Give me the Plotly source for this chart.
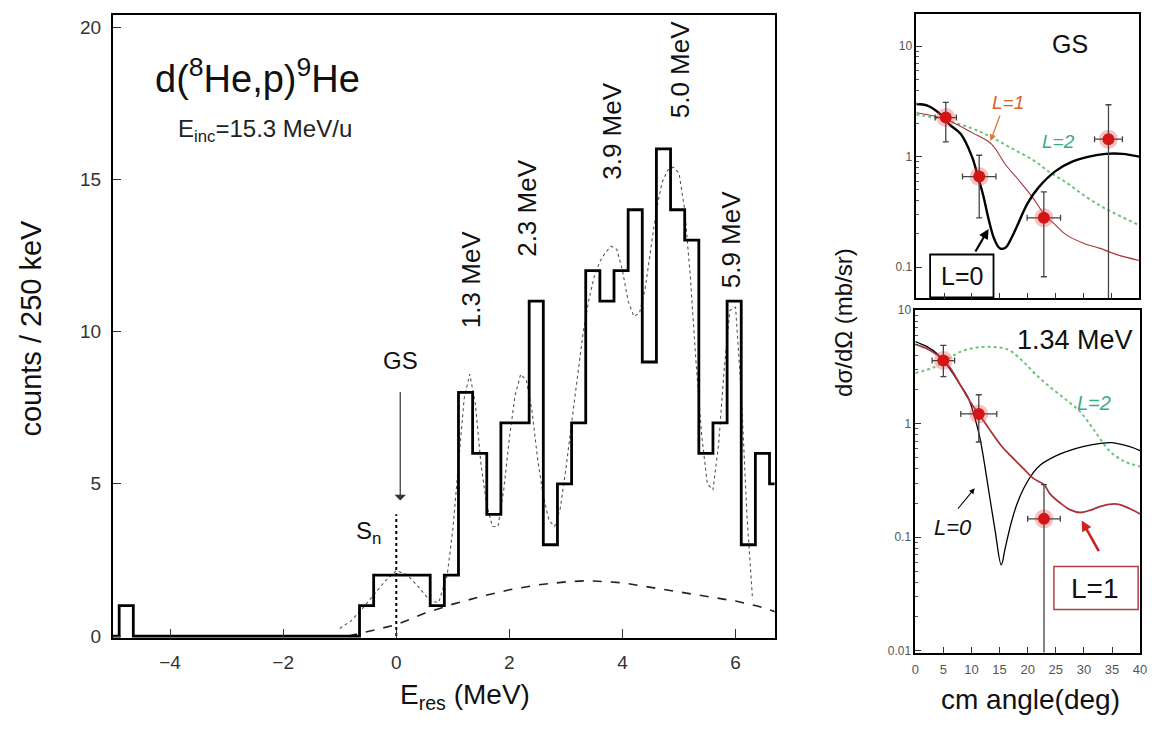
import plotly.graph_objects as go

W, H = 1158, 733

# ---------------- Left panel data: d(8He,p)9He spectrum ----------------
bin_left_edges = [-4.9, -4.65, -4.4, -4.15, -3.9, -3.65, -3.4, -3.15, -2.9, -2.65, -2.4, -2.15,
                  -1.9, -1.65, -1.4, -1.15, -0.9, -0.65, -0.4, -0.15, 0.1, 0.35, 0.6, 0.85,
                  1.1, 1.35, 1.6, 1.85, 2.1, 2.35, 2.6, 2.85, 3.1, 3.35, 3.6, 3.85, 4.1, 4.35,
                  4.6, 4.85, 5.1, 5.35, 5.6, 5.85, 6.1, 6.35, 6.6]
counts = [1, 0, 0, 0, 0, 0, 0, 0, 0, 0, 0, 0,
          0, 0, 0, 0, 0, 1, 2, 2, 2, 2, 1, 2,
          8, 6, 4, 7, 7, 11, 3, 5, 7, 12, 11, 12, 14, 9,
          16, 14, 13, 6, 7, 11, 3, 6, 5]

fit_x = [-1.0, -0.8, -0.6, -0.4, -0.2, 0.0, 0.2, 0.4, 0.6, 0.75, 0.9, 1.0, 1.1, 1.2, 1.3,
         1.4, 1.5, 1.6, 1.7, 1.8, 1.9, 2.0, 2.1, 2.2, 2.3, 2.4, 2.5, 2.6, 2.7, 2.8, 2.9,
         3.0, 3.1, 3.2, 3.3, 3.4, 3.5, 3.6, 3.7, 3.8, 3.9, 4.0, 4.1, 4.2, 4.3, 4.4, 4.5,
         4.6, 4.7, 4.8, 4.9, 5.0, 5.1, 5.2, 5.3, 5.4, 5.5, 5.6, 5.7, 5.8, 5.9, 6.0, 6.1,
         6.2, 6.3]
fit_y = [0.25, 0.5, 0.9, 1.35, 1.8, 2.15, 2.0, 1.6, 1.15, 1.1, 2.0, 3.5, 5.8, 7.8, 8.6,
         7.6, 5.6, 4.3, 3.6, 3.6, 4.8, 6.5, 7.9, 8.6, 8.4, 7.4, 5.8, 4.6, 3.8, 3.6, 4.2,
         5.5, 7.0, 8.5, 9.9, 11.0, 11.8, 12.3, 12.6, 12.8, 12.7, 12.0, 11.0, 10.5, 10.6,
         11.4, 12.7, 14.0, 14.9, 15.3, 15.4, 15.2, 14.0, 11.8, 9.0, 6.6, 5.0, 4.8, 6.3,
         8.8, 10.7, 10.8, 8.0, 4.0, 1.2]

bg_x = [-0.85, -0.5, 0.0, 0.5, 1.0, 1.5, 2.0, 2.5, 3.0, 3.4, 4.0, 4.5, 5.0, 5.5, 6.0, 6.4, 6.7]
bg_y = [0.0, 0.15, 0.37, 0.75, 1.05, 1.3, 1.52, 1.68, 1.78, 1.82, 1.75, 1.6, 1.45, 1.3, 1.15, 0.98, 0.8]

peak_labels = ["1.3 MeV", "2.3 MeV", "3.9 MeV", "5.0 MeV", "5.9 MeV"]
peak_label_x = [1.31, 2.31, 3.82, 5.01, 5.92]
peak_label_y = [11.7, 14.06, 16.57, 18.6, 13.0]

# ---------------- Right panels: angular distributions ----------------
gs_ang = [5.3, 11.3, 22.9, 34.5]
gs_val = [2.26, 0.66, 0.28, 1.44]
gs_err_up = [0.84, 0.37, 0.20, 1.51]
gs_err_dn = [0.90, 0.38, 0.198, 1.41]
gs_ang_err = [1.9, 3.0, 3.0, 2.5]

gs_L0_x = [0, 2, 4, 6, 8, 10, 11, 12, 13, 14, 15, 16, 17, 18, 20, 22, 25, 28, 31, 34, 37, 40]
gs_L0_y = [3.0, 2.9, 2.5, 1.95, 1.6, 1.0, 0.68, 0.45, 0.27, 0.18, 0.148, 0.15, 0.18, 0.23,
           0.38, 0.53, 0.74, 0.9, 1.0, 1.06, 1.06, 1.0]
gs_L1_x = [0, 5, 10, 13.5, 16, 18.8, 21, 23, 25, 27, 30, 33, 36, 40]
gs_L1_y = [2.5, 2.2, 1.65, 1.3, 0.85, 0.58, 0.42, 0.3, 0.24, 0.195, 0.165, 0.148, 0.13, 0.115]
gs_L2_x = [0, 5, 10, 13.5, 17, 21, 24, 27, 30, 33, 36, 40]
gs_L2_y = [2.4, 2.15, 1.8, 1.5, 1.2, 0.93, 0.72, 0.58, 0.45, 0.36, 0.3, 0.24]

ex_ang = [5.0, 11.3, 22.9]
ex_val = [3.6, 1.22, 0.145]
ex_err_up = [1.3, 0.58, 0.145]
ex_err_dn = [1.0, 0.53, 0.143]
ex_ang_err = [2.0, 3.2, 2.9]

ex_L0_x = [0, 2, 4, 6, 8, 9.4, 11.3, 12, 13, 14.2, 15.3, 16, 17, 18, 19.3, 21, 22.2, 25,
           27, 30, 33, 35, 38, 40]
ex_L0_y = [5.3, 4.8, 4.1, 3.1, 2.2, 1.7, 0.83, 0.55, 0.27, 0.115, 0.057, 0.08, 0.13, 0.19,
           0.27, 0.37, 0.43, 0.52, 0.57, 0.63, 0.67, 0.68, 0.63, 0.58]
ex_L1_x = [0, 2, 4, 6, 8, 10, 11.3, 13, 15.3, 17, 19.3, 21, 22.9, 24, 25.8, 27.5, 29.3, 31,
           32.7, 34.5, 36.2, 38, 40]
ex_L1_y = [5.0, 4.6, 4.0, 3.2, 2.2, 1.5, 1.22, 0.92, 0.64, 0.52, 0.4, 0.33, 0.29, 0.24, 0.2,
           0.175, 0.165, 0.172, 0.185, 0.195, 0.195, 0.18, 0.16]
ex_L2_x = [0, 3, 5, 8, 11, 14, 16.5, 19, 21.5, 24, 27, 29.5, 32, 34.5, 37, 40]
ex_L2_y = [2.8, 3.1, 3.5, 4.3, 4.7, 4.75, 4.5, 3.6, 2.7, 2.1, 1.6, 1.25, 0.85, 0.58, 0.47, 0.42]

angle_ticks = [0, 5, 10, 15, 20, 25, 30, 35, 40]

# ---------------- helpers ----------------
FONT = "Liberation Sans, Arial, Helvetica, sans-serif"
def px(x):
    return x / W
def py(y):
    return 1 - y / H

fig = go.Figure()

hist_x = [-5.2] + bin_left_edges + [bin_left_edges[-1] + 0.25]
hist_y = [0] + counts + [counts[-1]]
fig.add_trace(go.Scatter(x=fit_x, y=fit_y, mode="lines",
                         line=dict(color="#555", width=1.1, dash="dot"),
                         xaxis="x", yaxis="y", showlegend=False))
fig.add_trace(go.Scatter(x=bg_x, y=bg_y, mode="lines",
                         line=dict(color="#222", width=1.6, dash="dash"),
                         xaxis="x", yaxis="y", showlegend=False))
fig.add_trace(go.Scatter(x=hist_x, y=hist_y, mode="lines", line_shape="hv",
                         line=dict(color="black", width=2.8),
                         xaxis="x", yaxis="y", showlegend=False))
fig.add_trace(go.Scatter(x=[0.0, 0.0], y=[0, 4.0], mode="lines",
                         line=dict(color="black", width=2, dash="dot"),
                         xaxis="x", yaxis="y", showlegend=False))

GREEN = "#6cc47a"
RED_CURVE = "#a8323a"
fig.add_trace(go.Scatter(x=gs_L2_x, y=gs_L2_y, mode="lines", line_shape="spline",
                         line=dict(color=GREEN, width=2, dash="dot"),
                         xaxis="x2", yaxis="y2", showlegend=False))
fig.add_trace(go.Scatter(x=gs_L1_x, y=gs_L1_y, mode="lines", line_shape="spline",
                         line=dict(color=RED_CURVE, width=1.1),
                         xaxis="x2", yaxis="y2", showlegend=False))
fig.add_trace(go.Scatter(x=gs_L0_x, y=gs_L0_y, mode="lines", line_shape="spline",
                         line=dict(color="black", width=2.4),
                         xaxis="x2", yaxis="y2", showlegend=False))
fig.add_trace(go.Scatter(x=gs_ang, y=gs_val, mode="markers",
                         marker=dict(color="rgba(235,80,80,0.35)", size=19),
                         xaxis="x2", yaxis="y2", showlegend=False))
fig.add_trace(go.Scatter(x=gs_ang, y=gs_val, mode="markers",
                         marker=dict(color="#d41515", size=12),
                         error_y=dict(type="data", symmetric=False, array=gs_err_up,
                                      arrayminus=gs_err_dn, color="#444", thickness=1.3, width=3),
                         error_x=dict(type="data", array=gs_ang_err, color="#444",
                                      thickness=1.3, width=3),
                         xaxis="x2", yaxis="y2", showlegend=False))

fig.add_trace(go.Scatter(x=ex_L2_x, y=ex_L2_y, mode="lines", line_shape="spline",
                         line=dict(color=GREEN, width=2, dash="dot"),
                         xaxis="x3", yaxis="y3", showlegend=False))
fig.add_trace(go.Scatter(x=ex_L0_x, y=ex_L0_y, mode="lines", line_shape="spline",
                         line=dict(color="black", width=1.3),
                         xaxis="x3", yaxis="y3", showlegend=False))
fig.add_trace(go.Scatter(x=ex_L1_x, y=ex_L1_y, mode="lines", line_shape="spline",
                         line=dict(color=RED_CURVE, width=1.8),
                         xaxis="x3", yaxis="y3", showlegend=False))
fig.add_trace(go.Scatter(x=ex_ang, y=ex_val, mode="markers",
                         marker=dict(color="rgba(235,80,80,0.35)", size=19),
                         xaxis="x3", yaxis="y3", showlegend=False))
fig.add_trace(go.Scatter(x=ex_ang, y=ex_val, mode="markers",
                         marker=dict(color="#d41515", size=12),
                         error_y=dict(type="data", symmetric=False, array=ex_err_up,
                                      arrayminus=ex_err_dn, color="#444", thickness=1.3, width=3),
                         error_x=dict(type="data", array=ex_ang_err, color="#444",
                                      thickness=1.3, width=3),
                         xaxis="x3", yaxis="y3", showlegend=False))

minor_top = [v * m for m in (0.1, 1) for v in range(2, 10)]
minor_bot = [v * m for m in (0.01, 0.1, 1) for v in range(2, 10)]

axis_common = dict(showline=True, linecolor="black", mirror=True, showgrid=False,
                   zeroline=False, ticks="inside")

fig.update_layout(
    width=W, height=H, margin=dict(l=0, r=0, t=0, b=0),
    paper_bgcolor="white", plot_bgcolor="white",
    font=dict(family=FONT, color="#111"),
    xaxis=dict(domain=[px(110), px(778)], range=[-5.01, 6.69], linewidth=2,
               tickvals=[-4, -2, 0, 2, 4, 6], ticklabelstandoff=6,
               ticklen=9, tickwidth=1.3, tickcolor="#333",
               tickfont=dict(size=19, color="#333"), **axis_common),
    yaxis=dict(domain=[py(645), py(8)], range=[-0.06, 20.4], linewidth=2,
               tickvals=[0, 5, 10, 15, 20], ticklabelstandoff=6,
               ticklen=8, tickwidth=1.3, tickcolor="#333",
               tickfont=dict(size=19, color="#333"), **axis_common),
    xaxis2=dict(domain=[px(921), px(1146)], range=[0, 40], anchor="y2", linewidth=1.5,
                tickvals=angle_ticks, ticklen=6, showticklabels=False, tickcolor="#333",
                **axis_common),
    yaxis2=dict(domain=[py(298), py(7)], type="log", range=[-1.283, 1.292], anchor="x2",
                linewidth=1.5, tickvals=[0.1, 1, 10], ticktext=["0.1", "1", "10"],
                ticklen=6, tickcolor="#333", tickfont=dict(size=12, color="#555"),
                minor=dict(tickvals=minor_top, ticks="inside", ticklen=3, tickcolor="#555"),
                **axis_common),
    xaxis3=dict(domain=[px(920), px(1147)], range=[0, 40], anchor="y3", linewidth=1.5,
                tickvals=angle_ticks, ticklen=6, tickcolor="#333", ticklabelstandoff=4,
                tickfont=dict(size=13, color="#555"), **axis_common),
    yaxis3=dict(domain=[py(660), py(310)], type="log", range=[-2.017, 1.0], anchor="x3",
                linewidth=1.5, tickvals=[0.01, 0.1, 1, 10], ticktext=["0.01", "0.1", "1", "10"],
                ticklen=6, tickcolor="#333", tickfont=dict(size=12, color="#555"),
                minor=dict(tickvals=minor_bot, ticks="inside", ticklen=3, tickcolor="#555"),
                **axis_common),
)

ann = []
ann.append(dict(xref="x", yref="y", x=-2.45, y=18.4, showarrow=False,
                text="d(<sup>8</sup>He,p)<sup>9</sup>He", font=dict(size=38, color="#111")))
ann.append(dict(xref="x", yref="y", x=-2.33, y=16.6, showarrow=False,
                text="E<sub>inc</sub>=15.3 MeV/u", font=dict(size=24, color="#222")))
for t, xx, yy in zip(peak_labels, peak_label_x, peak_label_y):
    ann.append(dict(xref="x", yref="y", x=xx, y=yy, showarrow=False, text=t,
                    textangle=-90, font=dict(size=26, color="#111")))
ann.append(dict(xref="x", yref="y", x=0.07, y=9.05, showarrow=False, text="GS",
                font=dict(size=24, color="#111")))
ann.append(dict(xref="x", yref="y", x=0.07, y=4.45, ax=0, ay=-110, showarrow=True,
                text="", arrowhead=1, arrowsize=1.6, arrowwidth=1.2, arrowcolor="#333"))
ann.append(dict(xref="x", yref="y", x=-0.5, y=3.4, showarrow=False, text="S<sub>n</sub>",
                font=dict(size=24, color="#111")))

def paper_text(xp, yp, text, size, color="#111", italic=False, angle=0):
    t = f"<i>{text}</i>" if italic else text
    return dict(xref="paper", yref="paper", x=px(xp), y=py(yp), xanchor="center",
                yanchor="middle", showarrow=False, text=t, textangle=angle,
                font=dict(size=size, color=color))

def paper_arrow(tx, ty, hx, hy, color, width, size=1.0, head=2):
    return dict(xref="paper", yref="paper", x=px(hx), y=py(hy), ax=tx - hx, ay=ty - hy,
                axref="pixel", ayref="pixel", showarrow=True, text="", arrowhead=head,
                arrowsize=size, arrowwidth=width, arrowcolor=color)

# axis titles
ann.append(paper_text(27, 328, "counts / 250 keV", 29, angle=-90))
ann.append(paper_text(465, 705, "E<sub>res</sub> (MeV)", 28))
ann.append(paper_text(848, 322, "dσ/dΩ (mb/sr)", 24, angle=-90))
ann.append(paper_text(1036, 708, "cm angle(deg)", 28))

# right panel labels
ann.append(paper_text(1076, 38, "GS", 25))
ann.append(paper_text(1014, 98, "L=1", 19, color="#d9602a", italic=True))
ann.append(paper_arrow(1006, 110, 996, 137, "#e07a30", 1.3, 1.0))
ann.append(paper_text(1065, 137, "L=2", 19, color="#3aaa8a", italic=True))
ann.append(paper_text(967, 275, "L=0", 25))
ann.append(paper_arrow(980, 251, 994, 227, "black", 2.2, 0.9))
ann.append(paper_text(1081, 340, "1.34 MeV", 27))
ann.append(paper_text(1100, 405, "L=2", 20, color="#3aaa8a", italic=True))
ann.append(paper_text(958, 532, "L=0", 22, italic=True))
ann.append(paper_arrow(962, 514, 980, 492, "black", 1.1, 1.0))
ann.append(paper_text(1101, 594, "L=1", 28))
ann.append(paper_arrow(1106, 557, 1088, 525, "#cc2222", 2.6, 0.8))

shapes = [
    dict(type="rect", xref="paper", yref="paper", x0=px(935), x1=px(999), y0=py(297),
         y1=py(253), line=dict(color="black", width=1.8), fillcolor="white", layer="below"),
    dict(type="rect", xref="paper", yref="paper", x0=px(1060), x1=px(1145), y0=py(616),
         y1=py(572), line=dict(color="#b04040", width=1.5), fillcolor="white", layer="below"),
]

fig.update_layout(annotations=ann, shapes=shapes)

fig.write_html("out.html", include_plotlyjs=True, config={"displayModeBar": False},
               post_script="document.body.style.margin='0';document.body.style.overflow='hidden';")
